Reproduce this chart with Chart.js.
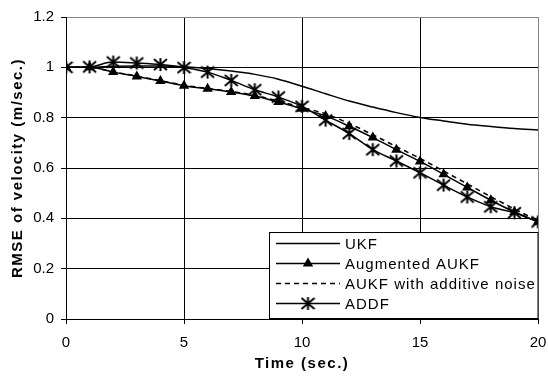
<!DOCTYPE html>
<html lang="en">
  <head>
    <meta charset="UTF-8">
    <title>RMSE of velocity</title>
    <style>
      html, body { margin: 0; padding: 0; background: #fff; }
      #wrap { width: 548px; height: 376px; position: relative; }
    </style>
  </head>
  <body>
    <div id="wrap"><canvas id="myChart"></canvas></div>

    <script src="https://cdn.jsdelivr.net/npm/chart.js"></script>
    <script>
      // time axis (sec.)
      const times = [0, 1, 2, 3, 4, 5, 6, 7, 8, 9, 10, 11, 12, 13, 14, 15, 16, 17, 18, 19, 20];
      const xTicks = [0, 5, 10, 15, 20];
      const yTicks = [0, 0.2, 0.4, 0.6, 0.8, 1, 1.2];

      // RMSE of velocity per filter
      const ukf = [1.0, 1.0, 1.004, 1.005, 1.005, 1.002, 0.995, 0.985, 0.972, 0.953, 0.925,
                   0.895, 0.866, 0.842, 0.82, 0.801, 0.787, 0.774, 0.765, 0.757, 0.751];
      const augmented = [1.0, 1.0, 0.981, 0.964, 0.946, 0.927, 0.915, 0.902, 0.886, 0.862, 0.835,
                         0.807, 0.766, 0.721, 0.673, 0.626, 0.575, 0.523, 0.472, 0.425, 0.386];
      const additive = [1.0, 1.0, 0.982, 0.965, 0.947, 0.929, 0.916, 0.904, 0.889, 0.866, 0.841,
                        0.815, 0.777, 0.732, 0.685, 0.638, 0.588, 0.537, 0.486, 0.437, 0.39];
      const addf = [1.0, 1.002, 1.021, 1.017, 1.011, 0.999, 0.981, 0.948, 0.911, 0.882, 0.845,
                    0.79, 0.737, 0.673, 0.628, 0.581, 0.532, 0.485, 0.446, 0.422, 0.386];

      const labels = ["UKF", "Augmented AUKF", "AUKF with additive noise", "ADDF"];

      function pairs(ys) {
        return times.map((t, i) => ({ x: t, y: ys[i] }));
      }

      // asterisk marker: vertical bar plus an X
      function makeAsterisk(size) {
        const c = document.createElement("canvas");
        c.width = size;
        c.height = size;
        const g = c.getContext("2d");
        g.strokeStyle = "#000";
        g.lineWidth = 2;
        const m = size / 2, e = 1;
        g.beginPath();
        g.moveTo(m, e); g.lineTo(m, size - e);
        g.moveTo(e, e + 1); g.lineTo(size - e, size - e - 1);
        g.moveTo(size - e, e + 1); g.lineTo(e, size - e - 1);
        g.stroke();
        return c;
      }
      const asterisk = makeAsterisk(15);

      function drawTriangle(ctx, x, y, r) {
        ctx.beginPath();
        ctx.moveTo(x, y - r);
        ctx.lineTo(x + r * Math.sin(Math.PI / 3), y + r / 2);
        ctx.lineTo(x - r * Math.sin(Math.PI / 3), y + r / 2);
        ctx.closePath();
        ctx.fill();
      }

      // spacing for axis titles, none for tick labels
      const spacingPlugin = {
        id: "spacing",
        beforeDraw(chart) { chart.ctx.letterSpacing = "1.5px"; },
        beforeDatasetsDraw(chart) { chart.ctx.letterSpacing = "0px"; }
      };

      // boxed legend inside the plot, lower right
      const boxLegend = {
        id: "boxLegend",
        afterDraw(chart) {
          const ctx = chart.ctx;
          const area = chart.chartArea;
          const x0 = 269.5, y0 = 232.5;
          const w = area.right - x0, h = 86;
          ctx.save();
          ctx.fillStyle = "#fff";
          ctx.fillRect(x0, y0, w, h);
          ctx.strokeStyle = "#000";
          ctx.lineWidth = 1;
          ctx.strokeRect(x0, y0, w, h);

          ctx.font = '15px "Liberation Sans", Arial, sans-serif';
          ctx.letterSpacing = "1px";
          ctx.textBaseline = "middle";
          ctx.fillStyle = "#000";
          const rowY = [243.5, 263.5, 283.5, 303.5];
          const lx1 = 276, lx2 = 340, mx = 308;
          rowY.forEach((y, i) => {
            ctx.beginPath();
            ctx.lineWidth = 1.5;
            ctx.setLineDash(i === 2 ? [5, 4] : []);
            ctx.moveTo(lx1, y);
            ctx.lineTo(lx2, y);
            ctx.stroke();
            ctx.setLineDash([]);
            if (i === 1) drawTriangle(ctx, mx, y, 6);
            if (i === 3) ctx.drawImage(asterisk, mx - 7.5, y - 7.5, 15, 15);
            ctx.fillText(labels[i], 345, y + 1);
          });
          ctx.restore();
        }
      };

      Chart.defaults.font.family = '"Liberation Sans", Arial, sans-serif';
      Chart.defaults.color = "#000";

      const ctx = document.getElementById("myChart").getContext("2d");
      new Chart(ctx, {
        type: "line",
        data: {
          datasets: [
            {
              label: labels[0],
              data: pairs(ukf),
              borderColor: "#000",
              borderWidth: 1.5,
              pointRadius: 0,
              cubicInterpolationMode: "monotone"
            },
            {
              label: labels[1],
              data: pairs(augmented),
              borderColor: "#000",
              borderWidth: 1.5,
              pointStyle: "triangle",
              pointRadius: 6,
              pointBackgroundColor: "#000",
              pointBorderWidth: 0,
              cubicInterpolationMode: "monotone"
            },
            {
              label: labels[2],
              data: pairs(additive),
              borderColor: "#000",
              borderWidth: 1.5,
              borderDash: [5, 4],
              pointRadius: 0,
              cubicInterpolationMode: "monotone"
            },
            {
              label: labels[3],
              data: pairs(addf),
              borderColor: "#000",
              borderWidth: 1.5,
              pointStyle: asterisk,
              pointRadius: 7,
              cubicInterpolationMode: "monotone"
            }
          ]
        },
        options: {
          responsive: true,
          maintainAspectRatio: false,
          animation: false,
          layout: { padding: { top: 17, right: 0, left: 0, bottom: 0 } },
          plugins: {
            legend: { display: false },
            tooltip: { enabled: false }
          },
          scales: {
            x: {
              type: "linear",
              min: 0,
              max: 20,
              afterFit: (s) => { s.height = 57; s.paddingRight = 10; },
              afterBuildTicks: (s) => { s.ticks = xTicks.map((v) => ({ value: v })); },
              ticks: { font: { size: 15 }, padding: 10, z: 1, maxRotation: 0 },
              grid: {
                color: (c) => (c.tick && c.tick.value === 20 ? "#888" : "#000"),
                tickColor: "#000",
                tickLength: 5,
                lineWidth: 1
              },
              border: { color: "#000", width: 1 },
              title: {
                display: true,
                text: "Time (sec.)",
                font: { size: 15, weight: "bold" },
                padding: { top: 2, bottom: 3 }
              }
            },
            y: {
              min: 0,
              max: 1.2,
              afterFit: (s) => { s.width = 66; },
              afterBuildTicks: (s) => { s.ticks = yTicks.map((v) => ({ value: v })); },
              ticks: {
                font: { size: 15 },
                padding: 7,
                z: 1,
                callback: (v) => String(Math.round(v * 10) / 10)
              },
              grid: {
                color: (c) => (c.tick && c.tick.value === 1.2 ? "#888" : "#000"),
                tickColor: "#000",
                tickLength: 5,
                lineWidth: 1
              },
              border: { color: "#000", width: 1 },
              title: {
                display: true,
                text: "RMSE of velocity (m/sec.)",
                font: { size: 15, weight: "bold" },
                padding: { top: 9, bottom: 0 }
              }
            }
          }
        },
        plugins: [spacingPlugin, boxLegend]
      });
    </script>
  </body>
</html>
